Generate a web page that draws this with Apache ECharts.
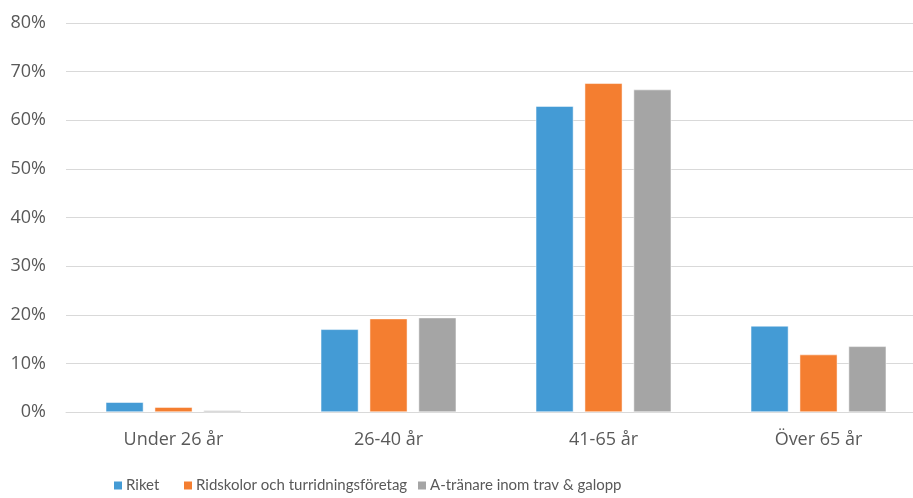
<!DOCTYPE html>
<html>
<head>
<meta charset="utf-8">
<script src="https://cdn.jsdelivr.net/npm/echarts@6/dist/echarts.min.js"></script>
<style>html,body{margin:0;padding:0;background:#fff;}#c{width:913px;height:498px;}</style>
</head>
<body>
<div id="c"></div>
<script>
const categories = ['Under 26 år', '26-40 år', '41-65 år', 'Över 65 år'];
const seriesNames = ['Riket', 'Ridskolor och turridningsföretag', 'A-tränare inom trav & galopp'];
const riket = [2.0, 17.0, 62.9, 17.7];
const ridskolor = [1.0, 19.2, 67.6, 11.8];
const atranare = [0.3, 19.4, 66.3, 13.5];
const yTicks = [0, 10, 20, 30, 40, 50, 60, 70, 80];
const colors = ['#449bd5', '#f47e30', '#a5a5a5'];

const font = '"Open Sans", sans-serif';
const legendFont = 'Lato, "Open Sans", sans-serif';
const legendLefts = [112, 182, 416];
const chart = echarts.init(document.getElementById('c'));
const values = [riket, ridskolor, atranare];
chart.setOption({
  animation: false,
  color: colors,
  textStyle: { fontFamily: font },
  grid: { left: 66, width: 860, top: 23, bottom: 86, containLabel: false, outerBoundsMode: 'none' },
  legend: seriesNames.map((n, i) => ({
    left: legendLefts[i], top: 478, padding: 0,
    itemWidth: 10, itemHeight: 10,
    icon: 'rect',
    textStyle: { fontSize: 15, color: '#595959', fontFamily: legendFont, padding: [0, 0, 0, -2] },
    data: [n]
  })),
  xAxis: {
    type: 'category',
    data: categories,
    axisLine: { show: true, lineStyle: { color: '#d9d9d9', width: 1 } },
    axisTick: { show: false },
    axisLabel: { fontSize: 18, color: '#595959', margin: 19, fontFamily: font }
  },
  yAxis: {
    type: 'value',
    min: yTicks[0], max: yTicks[yTicks.length - 1], interval: 10,
    axisLine: { show: false },
    axisTick: { show: false },
    splitLine: { lineStyle: { color: '#d9d9d9', width: 1 } },
    axisLabel: { fontSize: 18, color: '#595959', margin: 20, formatter: v => v + '%', fontFamily: font }
  },
  series: seriesNames.map((n, i) => ({
    name: n,
    type: 'bar',
    data: values[i],
    barGap: '30%',
    barCategoryGap: '37%',
    itemStyle: { color: colors[i], borderColor: '#ffffff', borderWidth: 0.5 }
  }))
});
</script>
</body>
</html>
